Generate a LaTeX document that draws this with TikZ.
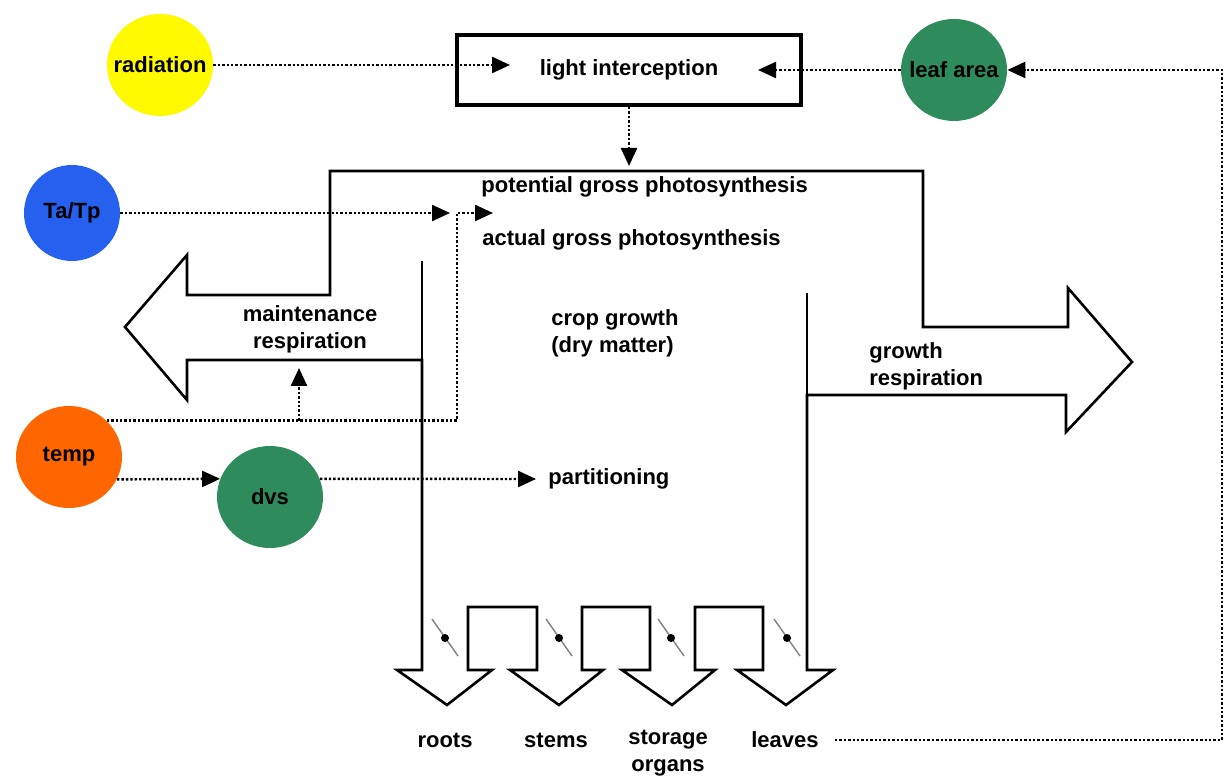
\documentclass[tikz,border=0pt]{standalone}
\usepackage{fontspec}
\setmainfont{Liberation Sans}
\usepackage{tikz}
\usetikzlibrary{positioning,arrows.meta,shapes.geometric}

\definecolor{sunyellow}{RGB}{255,250,0}
\definecolor{tpblue}{RGB}{38,96,238}
\definecolor{leafgreen}{RGB}{46,139,92}
\definecolor{temporange}{RGB}{255,102,0}

\tikzset{
  txt/.style={font=\fontsize{11}{13.5}\selectfont\bfseries, inner sep=0pt, align=left},
  bubble/.style={ellipse, txt, inner xsep=-8pt, inner ysep=0pt, minimum width=53pt, minimum height=51pt},
  flow/.style={line width=1.2pt, densely dotted, -{Triangle[length=9pt,width=8pt]}},
  pipe/.style={line width=1.3pt, line join=miter}
}

\begin{document}
\begin{tikzpicture}[x=.5pt, y=-.5pt]

\useasboundingbox (0,0) rectangle (1224,779);

% state variables and drivers
\node[bubble, fill=sunyellow] (rad) at (160,65) {radiation};
\node[bubble, fill=tpblue, minimum width=48pt, minimum height=48pt] (tatp) at (72,213) {Ta/Tp};
\node[bubble, fill=leafgreen] (leaf) at (954,70) {leaf area};
\node[bubble, fill=temporange] (temp) at (69,457) {temp};
\node[bubble, fill=leafgreen] (dvs) at (270,497) {dvs};

\node[txt, draw, line width=2pt, minimum width=172pt, minimum height=35pt, align=center] (light) at (629,70) {light interception};

% flow of dry matter
\draw[pipe] (187,295) -- (330,295) -- (330,171) -- (923,171) -- (923,327)
  -- (1068,327) -- (1068,288) -- (1132,362) -- (1066,432) -- (1066,395)
  -- (807,395) -- (807,670) -- (833,670) -- (786,705) -- (737,670) -- (763,670)
  -- (763,607) -- (695,607) -- (695,670) -- (715,670) -- (672,705) -- (622,670)
  -- (650,670) -- (650,607) -- (582,607) -- (582,670) -- (603,670) -- (559,705)
  -- (510,670) -- (537,670) -- (537,607) -- (468,607) -- (468,670) -- (492,670)
  -- (447,705) -- (397,670) -- (422,670) -- (422,360) -- (187,360) -- (187,400)
  -- (125,327) -- (187,255) -- cycle;
\draw[pipe] (422,261) -- (422,360);
\draw[pipe] (807,293) -- (807,395);

% valves
\foreach \x in {445,559,671,787}{
  \draw[gray, line width=.7pt] (\x-13,619) -- (\x+13,656);
  \fill (\x,638) circle (2pt);
}

\node[txt, anchor=west] (pot) at (481,187) {potential gross photosynthesis};
\node[txt, anchor=west] (act) at (482,240) {actual gross photosynthesis};
\node[txt, align=center] (maint) at (310,329) {maintenance\\respiration};
\node[txt, anchor=west] (crop) at (551,333) {crop growth\\(dry matter)};
\node[txt, anchor=west] (grow) at (869,366) {growth\\respiration};
\node[txt, anchor=west] (part) at (548,479) {partitioning};

\node[txt] (roots) at (445,740) {roots};
\node[txt] (stems) at (556,740) {stems};
\node[txt, align=center] (storage) at (668,753) {storage\\organs};
\node[txt] (leaves) at (785,740) {leaves};

% information flows
\coordinate (lightin) at (510,65);
\coordinate (lightout) at (758,70);
\coordinate (pgtop) at (629,166);
\coordinate (agp) at (450,213);
\coordinate (mjoin) at (457,213);
\coordinate (agpout) at (493,213);
\coordinate (mrtip) at (299,368);
\coordinate (fbtop) at (1222,70);

\draw[flow] (rad.east) -- (lightin);
\draw[flow] (leaf.west) -- (lightout);
\draw[flow] (light.south) -- (pgtop);
\draw[flow] (tatp.east) -- (agp);
\draw[flow] (temp.44) -| (mjoin) -- (agpout);
\draw[flow] (mrtip |- temp.44) -- (mrtip);
\draw[flow] (temp.-25) -- (dvs.160);
\draw[flow] (dvs.20) -- ([xshift=-6pt]part.west);
\draw[flow] ([xshift=8pt]leaves.east) -| (fbtop) -- (leaf.east);

\end{tikzpicture}
\end{document}
